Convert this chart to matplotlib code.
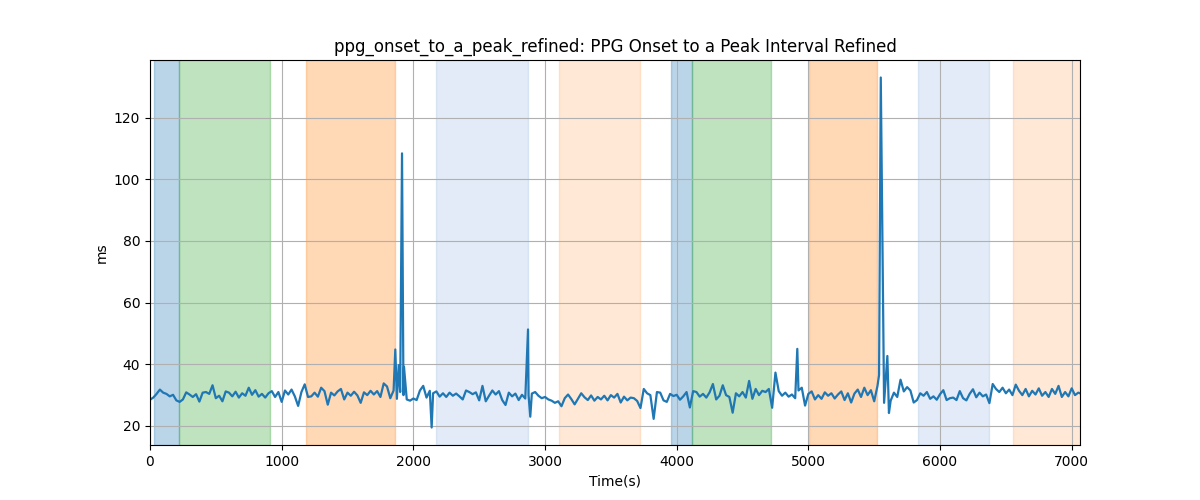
#!/usr/bin/env python3
"""
plot.py - PPG onset to a-peak interval (refined) with protocol phases shaded
"""

import numpy as np
import matplotlib
matplotlib.use('Agg')
import matplotlib.pyplot as plt

# Sample step of the base series (s)
STEP = 25

# Base series (ms), one value every STEP seconds starting at t=0
interval_ms = [
    28.5, 29.2, 30.4, 31.8, 30.8, 30.4, 29.6, 30.1, 28.3, 27.8,
    28.6, 30.9, 30.2, 29.4, 30.3, 27.9, 30.8, 31.0, 30.4, 33.2,
    29.0, 29.8, 28.0, 31.2, 30.8, 29.6, 31.1, 29.2, 30.6, 29.8,
    32.4, 30.1, 31.6, 29.5, 30.4, 29.2, 30.6, 31.3, 29.4, 31.0,
    27.8, 31.5, 30.2, 31.8, 29.6, 26.5, 31.0, 33.5, 29.4, 29.6,
    30.8, 29.5, 32.4, 31.3, 26.9, 30.8, 29.9, 31.2, 32.0, 28.6,
    30.8, 29.8, 31.1, 29.9, 27.5, 30.9, 30.0, 31.4, 30.2, 31.3,
    29.4, 33.8, 32.8, 29.0, 31.5, 28.8, 31.0, 30.0, 28.6, 28.2,
    28.9, 28.4, 31.5, 33.0, 29.2, 31.4, 30.6, 31.2, 29.5, 30.6,
    29.4, 30.8, 29.8, 30.5, 29.6, 28.6, 31.5, 31.0, 30.3, 30.9,
    28.3, 33.0, 28.0, 29.8, 31.5, 30.2, 31.3, 28.4, 26.8, 30.8,
    29.6, 30.5, 28.4, 30.1, 28.9, 30.0, 30.5, 31.0, 29.8, 29.0,
    29.4, 28.6, 28.2, 27.5, 28.0, 26.4, 29.0, 30.2, 28.7, 27.0,
    28.8, 30.6, 29.3, 28.4, 29.9, 28.2, 29.4, 28.6, 29.8, 28.3,
    30.0, 29.2, 30.4, 27.6, 29.5, 28.3, 29.2, 29.0, 28.1, 25.8,
    32.0, 30.6, 30.0, 22.3, 31.0, 30.8, 28.3, 27.8, 30.4, 29.7,
    30.1, 28.5, 29.6, 31.0, 26.0, 31.3, 31.0, 29.5, 30.4, 29.2,
    30.9, 33.6, 28.6, 29.8, 33.2, 30.0, 29.4, 24.3, 30.6, 29.6,
    31.0, 29.2, 34.6, 28.8, 32.0, 30.0, 31.4, 31.0, 32.0, 25.9,
    37.3, 31.3, 29.8, 30.8, 29.5, 30.2, 29.0, 31.5, 32.4, 26.6,
    30.4, 31.2, 28.6, 30.0, 28.8, 30.9, 29.8, 30.6, 28.9, 30.2,
    31.2, 28.4, 30.6, 27.6, 30.5, 31.8, 29.4, 32.4, 30.0, 31.6,
    28.0, 33.0, 133.0, 27.5, 42.7, 28.2, 30.8, 29.4, 35.0, 31.2,
    32.6, 31.5, 27.6, 28.4, 30.6, 29.8, 31.0, 28.8, 29.6, 28.5,
    30.3, 31.6, 28.4, 29.0, 29.2, 28.4, 31.3, 29.0, 28.3, 30.4,
    31.9, 29.3, 30.8, 29.6, 30.2, 27.4, 33.6, 32.0, 31.0, 32.4,
    30.6, 31.8, 30.0, 33.4, 31.4, 30.0, 32.0, 29.6, 31.4, 30.2,
    32.2, 29.8, 31.0, 29.4, 32.0, 30.4, 33.0, 29.4, 31.0, 29.6,
    32.2, 30.0, 30.8, 30.4,
]

# Off-grid samples (artefact spikes and dips)
extra_t = [1863, 1889, 1914, 1929, 2139, 2871, 2888, 4916, 5537, 5612]
extra_ms = [44.8, 39.7, 108.4, 39.2, 19.5, 51.3, 23.0, 45.0, 36.5, 24.2]

# Protocol phases: start (s), end (s), colour, alpha
phase_start = [30, 223, 1185, 2172, 3106, 3957, 4114, 5007, 5833, 6554]
phase_end = [223, 909, 1861, 2867, 3721, 4114, 4716, 5519, 6372, 7063]
phase_color = ['tab:blue', 'tab:green', 'tab:orange', '#6395d3', 'tab:orange',
               'tab:blue', 'tab:green', 'tab:orange', '#6395d3', 'tab:orange']
phase_alpha = [0.3, 0.3, 0.3, 0.18, 0.17, 0.3, 0.3, 0.3, 0.18, 0.17]

T_END = 7063


def build_series():
    """Junta a serie base com os pontos fora da grade"""
    t = np.concatenate([np.arange(len(interval_ms)) * STEP, extra_t])
    v = np.concatenate([interval_ms, extra_ms])
    order = np.argsort(t, kind='stable')
    return t[order], v[order]


def main():
    t, v = build_series()

    fig, ax = plt.subplots(figsize=(12, 5), dpi=100)

    for s, e, c, a in zip(phase_start, phase_end, phase_color, phase_alpha):
        ax.axvspan(s, e, color=c, alpha=a)

    ax.plot(t, v, color='tab:blue', linewidth=1.6)

    ax.set_xlim(0, T_END)
    ax.grid(True)
    ax.set_title('ppg_onset_to_a_peak_refined: PPG Onset to a Peak Interval Refined')
    ax.set_xlabel('Time(s)')
    ax.set_ylabel('ms')

    plt.savefig('out.png', dpi=100)
    plt.close()


if __name__ == '__main__':
    main()
